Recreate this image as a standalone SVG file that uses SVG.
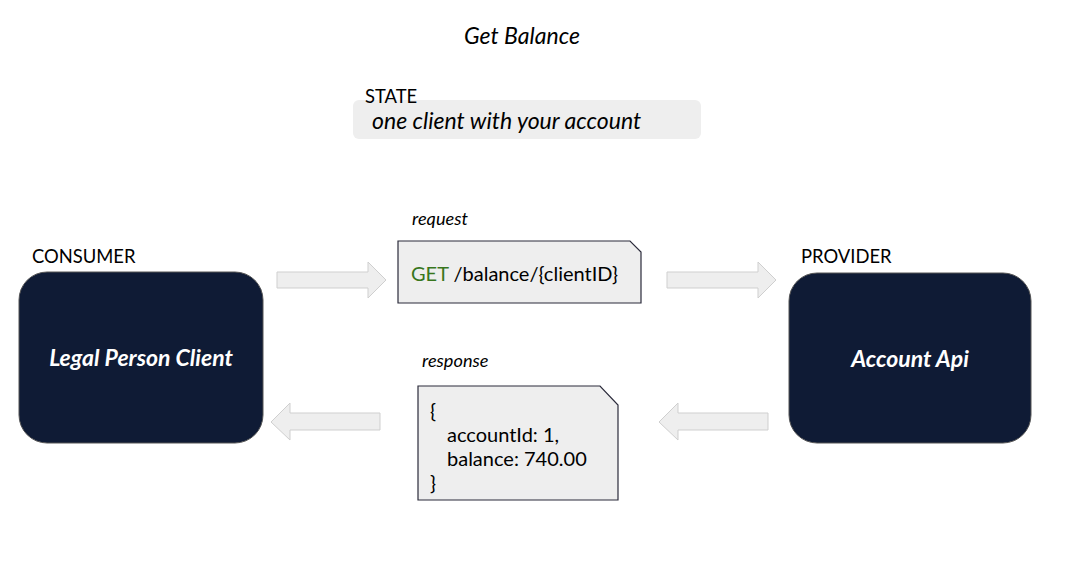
<svg xmlns="http://www.w3.org/2000/svg" width="1066" height="587" viewBox="0 0 1066 587">
<style>
text{font-family:Lato,"Open Sans","Liberation Sans",sans-serif;fill:#000}
.it{font-style:italic}
.lbl{font-size:18.4px}
.node{fill:#0f1b35;stroke:#555;stroke-width:1}
.ntxt{font-size:23px;font-style:italic;font-weight:bold;fill:#fff;text-anchor:middle}
.note{fill:#eeeeee;stroke:#2b2b3b;stroke-width:1.2}
.code{font-size:20px}
.arrow{fill:#eeeeee;stroke:#cfcfcf;stroke-width:1}
</style>
<rect width="1066" height="587" fill="#fff"/>
<text x="522" y="44" class="it" font-size="23" text-anchor="middle">Get Balance</text>
<g id="state">
<rect x="353" y="100" width="348" height="39" rx="6" fill="#eeeeee"/>
<text x="365" y="103" class="lbl">STATE</text>
<text x="372" y="129" class="it" font-size="23">one client with your account</text>
</g>
<g id="consumer">
<text x="32" y="263" class="lbl">CONSUMER</text>
<rect x="19" y="272" width="244" height="171" rx="28" class="node"/>
<text x="141" y="366" class="ntxt">Legal Person Client</text>
</g>
<g id="provider">
<text x="801" y="263" class="lbl">PROVIDER</text>
<rect x="789" y="273" width="242" height="170" rx="28" class="node"/>
<text x="910" y="367" class="ntxt">Account Api</text>
</g>
<g id="request">
<text x="412" y="225" class="it" font-size="18.2">request</text>
<path d="M398,241 H630 L641,252 V303 H398 Z" class="note"/>
<text x="411" y="281" class="code"><tspan fill="#38761d">GET</tspan> /balance/{clientID}</text>
</g>
<g id="response">
<text x="422" y="367" class="it" font-size="18.2">response</text>
<path d="M418,386 H600 L618,405 V500 H418 Z" class="note"/>
<text x="430" y="418" class="code">{</text>
<text x="447" y="442" class="code">accountId: 1,</text>
<text x="447" y="466" class="code">balance: 740.00</text>
<text x="430" y="490" class="code">}</text>
</g>
<g id="connectors">
<path d="M277,272 H368 V262 L386,280 L368,298 V288 H277 Z" class="arrow"/>
<path d="M667,272 H758 V262 L776,280 L758,298 V288 H667 Z" class="arrow"/>
<path d="M380,413 H290 V403 L271,422 L290,440 V430 H380 Z" class="arrow"/>
<path d="M768,413 H678 V403 L659,422 L678,440 V430 H768 Z" class="arrow"/>
</g>
</svg>
